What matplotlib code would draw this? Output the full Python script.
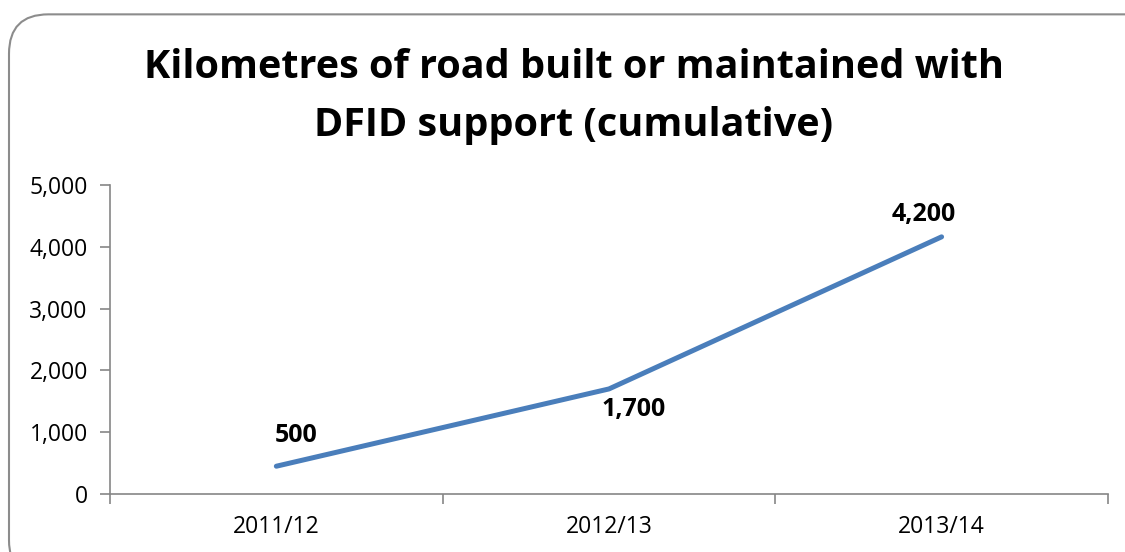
import matplotlib.pyplot as plt
from matplotlib.patches import FancyBboxPatch
from matplotlib.ticker import FuncFormatter, FixedLocator

# Data
years = ['2011/12', '2012/13', '2013/14']
km_roads = [450, 1700, 4160]
value_labels = ['500', '1,700', '4,200']
# label offsets in pixels (dx, dy) relative to each point
label_offsets = [(20, 31), (25, -21), (-18, 22)]

plt.rcParams['font.family'] = ['Open Sans', 'DejaVu Sans']

fig = plt.figure(figsize=(11.25, 5.52), dpi=100)

# rounded chart border
border = FancyBboxPatch((0.008, -0.05), 1.05, 1.024,
                        boxstyle='round,pad=0,rounding_size=0.035',
                        transform=fig.transFigure, facecolor='white',
                        edgecolor='#8c8c8c', linewidth=1.5, zorder=-5,
                        mutation_aspect=2.04)
fig.patches.append(border)

ax = fig.add_axes([0.0978, 0.105, 0.887, 0.56])
ax.patch.set_alpha(0)
ax.set_zorder(2)

x = list(range(len(years)))
ax.plot(x, km_roads, color='#4A7EBB', linewidth=3.6, solid_capstyle='round')

for xi, yi, lab, (dx, dy) in zip(x, km_roads, value_labels, label_offsets):
    ax.annotate(lab, (xi, yi), xytext=(dx * 0.72, dy * 0.72),
                textcoords='offset points', ha='center', va='center',
                fontsize=18, fontweight='bold', color='black')

ax.set_xlim(-0.5, len(years) - 0.5)
ax.set_ylim(0, 5000)
ax.set_yticks(range(0, 5001, 1000))
ax.yaxis.set_major_formatter(FuncFormatter(lambda v, p: f'{int(v):,}'))

ax.set_xticks(x)
ax.set_xticklabels(years)
ax.xaxis.set_minor_locator(FixedLocator([i - 0.5 for i in range(len(years) + 1)]))
ax.tick_params(axis='x', which='major', length=0, pad=15, labelsize=16.5)
ax.tick_params(axis='x', which='minor', length=7, color='#868686', width=1.2)
ax.tick_params(axis='y', length=7, color='#868686', width=1.2, labelsize=16.5, pad=9)

for side in ['top', 'right']:
    ax.spines[side].set_visible(False)
for side in ['left', 'bottom']:
    ax.spines[side].set_color('#868686')
    ax.spines[side].set_linewidth(1.2)

fig.text(0.51, 0.825, 'Kilometres of road built or maintained with\nDFID support (cumulative)',
         ha='center', va='center', fontsize=28.5, fontweight='bold', linespacing=1.65)

fig.savefig('out.png', dpi=100)
